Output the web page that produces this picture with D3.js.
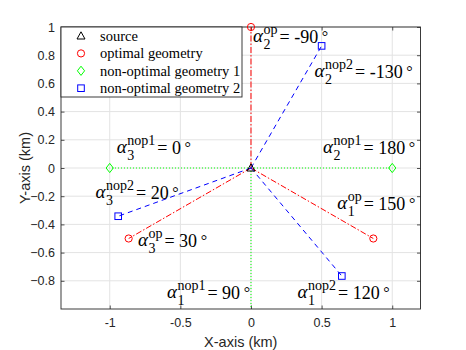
<!DOCTYPE html>
<html>
<head>
<meta charset="utf-8">
<script src="https://cdn.jsdelivr.net/npm/d3@7"></script>
<style>
  body { margin: 0; background: #fff; }
  svg { display: block; }
</style>
</head>
<body>
<svg id="chart" width="466" height="350"></svg>
<script>
// sensor positions (km)
const sourcePts = [[0, 0]];
const optimalPts = [[0, 1], [0.866, -0.5], [-0.866, -0.5]];
const nonOpt1Pts = [[-1, 0], [1, 0], [0, -1.05]];
const nonOpt2Pts = [[0.5, 0.866], [-0.94, -0.342], [0.643, -0.766]];

const xTicks = [-1, -0.5, 0, 0.5, 1];
const yTicks = [-0.8, -0.6, -0.4, -0.2, 0, 0.2, 0.4, 0.6, 0.8, 1];

const legendNames = ['source', 'optimal geometry', 'non-optimal geometry 1', 'non-optimal geometry 2'];

// angle labels: subscript, superscript, value
const angleSub = ['2', '2', '3', '3', '3', '2', '1', '1', '1'];
const angleSup = ['op', 'nop2', 'nop1', 'nop2', 'op', 'nop1', 'op', 'nop1', 'nop2'];
const angleVal = ['-90', '-130', '0', '20', '30', '180', '150', '90', '120'];
// where each label sits (data units, left/middle)
const angleAt = [[0.015, 0.93], [0.45, 0.68], [-0.95, 0.14], [-1.10, -0.18], [-0.80, -0.52],
                 [0.51, 0.14], [0.61, -0.255], [-0.595, -0.885], [0.33, -0.885]];

const svg = d3.select('#chart');
const L = 61, R = 420.5, T = 27, B = 309;
const x = d3.scaleLinear().domain([-1.345, 1.2]).range([L, R]);
const y = d3.scaleLinear().domain([-1, 1]).range([B, T]);

const axisCol = '#262626';
const sans = 'Liberation Sans';
const serif = 'Liberation Serif';

svg.append('defs').append('clipPath').attr('id', 'clip')
  .append('rect').attr('x', L).attr('y', T).attr('width', R - L).attr('height', B - T);

// grid
svg.append('g').selectAll('line').data(xTicks).join('line')
  .attr('x1', d => x(d)).attr('x2', d => x(d)).attr('y1', T).attr('y2', B)
  .attr('stroke', '#e3e3e3').attr('stroke-width', 1);
svg.append('g').selectAll('line').data(yTicks).join('line')
  .attr('y1', d => y(d)).attr('y2', d => y(d)).attr('x1', L).attr('x2', R)
  .attr('stroke', '#e3e3e3').attr('stroke-width', 1);

// axes
const tickLen = 3.5;
const xAx = svg.append('g').attr('transform', `translate(0,${B})`)
  .call(d3.axisBottom(x).tickValues(xTicks).tickSizeInner(-tickLen).tickSizeOuter(0).tickPadding(9).tickFormat(d3.format('')));
const xAxTop = svg.append('g').attr('transform', `translate(0,${T})`)
  .call(d3.axisTop(x).tickValues(xTicks).tickSizeInner(-tickLen).tickSizeOuter(0).tickFormat(''));
const yAx = svg.append('g').attr('transform', `translate(${L},0)`)
  .call(d3.axisLeft(y).tickValues(yTicks).tickSizeInner(-tickLen).tickSizeOuter(0).tickPadding(6).tickFormat(d3.format('')));
const yAxR = svg.append('g').attr('transform', `translate(${R},0)`)
  .call(d3.axisRight(y).tickValues(yTicks).tickSizeInner(-tickLen).tickSizeOuter(0).tickFormat(''));
[xAx, xAxTop, yAx, yAxR].forEach(g => {
  g.select('.domain').remove();
  g.attr('font-family', sans).attr('font-size', 12.5);
  g.selectAll('line').attr('stroke', axisCol).attr('stroke-width', 0.8);
  g.selectAll('text').attr('fill', axisCol);
});
xAx.selectAll('text').text(d => d === 0 ? '0' : d);

svg.append('rect').attr('x', L).attr('y', T).attr('width', R - L).attr('height', B - T)
  .attr('fill', 'none').attr('stroke', axisCol).attr('stroke-width', 0.9);

svg.append('text').attr('x', (L + R) / 2).attr('y', 347).attr('text-anchor', 'middle')
  .attr('font-family', sans).attr('font-size', 14.5).attr('fill', axisCol).text('X-axis (km)');
svg.append('text').attr('transform', `translate(30,${(T + B) / 2}) rotate(-90)`).attr('text-anchor', 'middle')
  .attr('font-family', sans).attr('font-size', 14.5).attr('fill', axisCol).text('Y-axis (km)');

// rays from the source
const plot = svg.append('g').attr('clip-path', 'url(#clip)');
const series = [
  { pts: nonOpt1Pts, col: '#00ff00', dash: '1,2', marker: 'diamond' },
  { pts: optimalPts, col: '#ff0000', dash: '6,2,1.5,2', marker: 'circle' },
  { pts: nonOpt2Pts, col: '#0000ff', dash: '5,4', marker: 'square' }
];
series.forEach(s => {
  plot.append('g').selectAll('line').data(s.pts).join('line')
    .attr('x1', x(sourcePts[0][0])).attr('y1', y(sourcePts[0][1]))
    .attr('x2', d => x(d[0])).attr('y2', d => y(d[1]))
    .attr('stroke', s.col).attr('stroke-width', 1).attr('stroke-dasharray', s.dash);
});

function marker(g, type, col) {
  if (type === 'circle') g.append('circle').attr('r', 3.6);
  else if (type === 'square') g.append('rect').attr('x', -3.3).attr('y', -3.3).attr('width', 6.6).attr('height', 6.6);
  else if (type === 'diamond') g.append('path').attr('d', 'M0,-4.6L3.6,0L0,4.6L-3.6,0Z');
  else g.append('path').attr('d', 'M0,-4.2L4,3L-4,3Z');
  g.selectAll('*').attr('fill', 'none').attr('stroke', col).attr('stroke-width', 1);
}
// markers are not clipped, but points outside the axes are skipped
const inside = p => p[0] >= x.domain()[0] && p[0] <= x.domain()[1] && p[1] >= y.domain()[0] && p[1] <= y.domain()[1];
const markG = svg.append('g');
series.forEach(s => {
  s.pts.filter(inside).forEach(p => {
    marker(markG.append('g').attr('transform', `translate(${x(p[0])},${y(p[1])})`), s.marker, s.col);
  });
});
sourcePts.forEach(p => marker(markG.append('g').attr('transform', `translate(${x(p[0])},${y(p[1])})`), 'triangle', '#000'));

// angle labels
angleVal.forEach((v, i) => {
  const px = x(angleAt[i][0]), py = y(angleAt[i][1]);
  const g = svg.append('g').attr('font-family', serif).attr('fill', '#000');
  const a = g.append('text').attr('x', px).attr('y', py + 5).attr('font-size', 19).attr('font-style', 'italic').text('α');
  const aw = a.node().getComputedTextLength() + 0.5;
  const sup = g.append('text').attr('x', px + aw).attr('y', py - 3).attr('font-size', 14).text(angleSup[i]);
  const sub = g.append('text').attr('x', px + aw).attr('y', py + 12).attr('font-size', 14).text(angleSub[i]);
  const sw = Math.max(sup.node().getComputedTextLength(), sub.node().getComputedTextLength());
  const rest = g.append('text').attr('x', px + aw + sw + 2).attr('y', py + 6).attr('font-size', 18);
  rest.append('tspan').text('= ' + v + '\u2009');
  rest.append('tspan').attr('dy', -1).attr('font-size', 16).text('°');
});

// legend
const lg = svg.append('g');
lg.append('rect').attr('x', L).attr('y', T).attr('width', 181).attr('height', 70)
  .attr('fill', '#fff').attr('stroke', axisCol).attr('stroke-width', 0.9);
const legMarks = [['triangle', '#000'], ['circle', '#ff0000'], ['diamond', '#00ff00'], ['square', '#0000ff']];
legendNames.forEach((n, i) => {
  const ry = 36 + i * 17.4;
  marker(lg.append('g').attr('transform', `translate(81,${ry})`), legMarks[i][0], legMarks[i][1]);
  lg.append('text').attr('x', 100).attr('y', ry + 5).attr('font-family', serif).attr('font-size', 14.5)
    .attr('fill', '#000').text(n);
});
</script>
</body>
</html>
